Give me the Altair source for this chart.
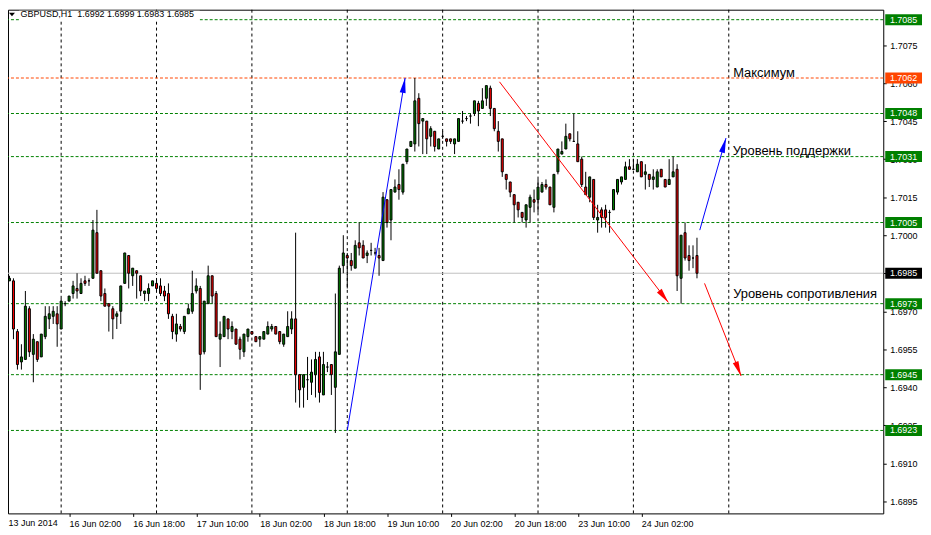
import math
import altair as alt
import pandas as pd

# ---------------- data (GBPUSD H1) ----------------
open_ = [1.6974, 1.6982, 1.6982, 1.6962, 1.6950, 1.6951, 1.6971, 1.6953, 1.6958, 1.6952,
         1.6960, 1.6967, 1.6968, 1.6969, 1.6963, 1.6973, 1.6974, 1.6977, 1.6979, 1.6977,
         1.6982, 1.6982, 1.6983, 1.7001, 1.6986, 1.6977, 1.6973, 1.6971, 1.6968, 1.6970,
         1.6981, 1.6992, 1.6984, 1.6986, 1.6984, 1.6977, 1.6977, 1.6980, 1.6981, 1.6980,
         1.6978, 1.6977, 1.6968, 1.6961, 1.6964, 1.6962, 1.6969, 1.6970, 1.6978, 1.6979,
         1.6954, 1.6973, 1.6984, 1.6977, 1.6959, 1.6960, 1.6967, 1.6962, 1.6963, 1.6959,
         1.6954, 1.6960, 1.6962, 1.6960, 1.6959, 1.6959, 1.6961, 1.6963, 1.6964, 1.6962,
         1.6957, 1.6960, 1.6963, 1.6967, 1.6945, 1.6940, 1.6943, 1.6942, 1.6945, 1.6952,
         1.6937, 1.6948, 1.6949, 1.6940, 1.6953, 1.6988, 1.6992, 1.6990, 1.6987, 1.6997,
         1.6996, 1.6992, 1.6994, 1.6993, 1.6992, 1.6990, 1.7014, 1.7006, 1.7017, 1.7020,
         1.7017, 1.7029, 1.7035, 1.7036, 1.7054, 1.7045, 1.7045, 1.7039, 1.7041, 1.7034,
         1.7039, 1.7038, 1.7038, 1.7036, 1.7037, 1.7045, 1.7046, 1.7047, 1.7048, 1.7052,
         1.7050, 1.7054, 1.7058, 1.7050, 1.7041, 1.7038, 1.7024, 1.7021, 1.7016, 1.7013,
         1.7009, 1.7006, 1.7011, 1.7014, 1.7014, 1.7017, 1.7020, 1.7019, 1.7011, 1.7025,
         1.7032, 1.7034, 1.7040, 1.7037, 1.7036, 1.7030, 1.7019, 1.7015, 1.7022, 1.7006,
         1.7010, 1.7010, 1.7009, 1.7010, 1.7017, 1.7021, 1.7022, 1.7027, 1.7026, 1.7025,
         1.7029, 1.7024, 1.7024, 1.7022, 1.7019, 1.7026, 1.7022, 1.7020, 1.7023, 1.7026,
         1.6983, 1.7001, 1.6992, 1.6991, 1.6992]
high_ = [1.6991, 1.6984, 1.6983, 1.6963, 1.6957, 1.6978, 1.6972, 1.6961, 1.6958, 1.6961,
         1.6972, 1.6972, 1.6972, 1.6972, 1.6975, 1.6974, 1.6976, 1.6982, 1.6985, 1.6983,
         1.6984, 1.6983, 1.7006, 1.7010, 1.6986, 1.6979, 1.6973, 1.6972, 1.6970, 1.6980,
         1.6993, 1.6992, 1.6987, 1.6986, 1.6984, 1.6978, 1.6981, 1.6982, 1.6983, 1.6983,
         1.6980, 1.6981, 1.6969, 1.6969, 1.6965, 1.6968, 1.6973, 1.6986, 1.6983, 1.6980,
         1.6974, 1.6988, 1.6984, 1.6978, 1.6966, 1.6968, 1.6967, 1.6966, 1.6963, 1.6960,
         1.6961, 1.6963, 1.6962, 1.6960, 1.6960, 1.6962, 1.6966, 1.6965, 1.6964, 1.6962,
         1.6961, 1.6970, 1.6970, 1.7001, 1.6945, 1.6945, 1.6952, 1.6951, 1.6954, 1.6954,
         1.6954, 1.6950, 1.6949, 1.6977, 1.6988, 1.7000, 1.6993, 1.6993, 1.6998, 1.7005,
         1.6998, 1.6994, 1.6997, 1.6995, 1.6995, 1.7017, 1.7014, 1.7018, 1.7022, 1.7026,
         1.7028, 1.7034, 1.7037, 1.7062, 1.7056, 1.7046, 1.7045, 1.7043, 1.7041, 1.7038,
         1.7041, 1.7038, 1.7038, 1.7038, 1.7046, 1.7049, 1.7047, 1.7048, 1.7053, 1.7053,
         1.7058, 1.7059, 1.7059, 1.7050, 1.7045, 1.7038, 1.7024, 1.7021, 1.7016, 1.7013,
         1.7009, 1.7012, 1.7016, 1.7018, 1.7022, 1.7021, 1.7022, 1.7019, 1.7024, 1.7034,
         1.7037, 1.7044, 1.7040, 1.7048, 1.7041, 1.7031, 1.7025, 1.7023, 1.7022, 1.7012,
         1.7011, 1.7012, 1.7010, 1.7018, 1.7022, 1.7023, 1.7029, 1.7030, 1.7030, 1.7030,
         1.7029, 1.7028, 1.7024, 1.7026, 1.7026, 1.7026, 1.7022, 1.7030, 1.7031, 1.7028,
         1.7000, 1.7005, 1.6996, 1.6996, 1.6999]
low_ = [1.6967, 1.6982, 1.6959, 1.6947, 1.6947, 1.6951, 1.6952, 1.6942, 1.6950, 1.6952,
        1.6959, 1.6963, 1.6965, 1.6956, 1.6963, 1.6972, 1.6974, 1.6975, 1.6975, 1.6977,
        1.6980, 1.6980, 1.6983, 1.6985, 1.6974, 1.6972, 1.6962, 1.6959, 1.6963, 1.6965,
        1.6981, 1.6979, 1.6980, 1.6975, 1.6976, 1.6974, 1.6974, 1.6980, 1.6978, 1.6976,
        1.6974, 1.6967, 1.6959, 1.6958, 1.6962, 1.6961, 1.6969, 1.6969, 1.6977, 1.6939,
        1.6953, 1.6973, 1.6973, 1.6960, 1.6948, 1.6960, 1.6959, 1.6959, 1.6957, 1.6951,
        1.6952, 1.6958, 1.6961, 1.6958, 1.6956, 1.6959, 1.6961, 1.6962, 1.6961, 1.6957,
        1.6956, 1.6960, 1.6961, 1.6934, 1.6932, 1.6932, 1.6935, 1.6937, 1.6936, 1.6934,
        1.6937, 1.6946, 1.6937, 1.6922, 1.6953, 1.6985, 1.6979, 1.6986, 1.6987, 1.6992,
        1.6991, 1.6989, 1.6992, 1.6992, 1.6984, 1.6990, 1.7003, 1.6998, 1.7017, 1.7014,
        1.7016, 1.7028, 1.7035, 1.7033, 1.7035, 1.7032, 1.7032, 1.7035, 1.7033, 1.7034,
        1.7038, 1.7035, 1.7036, 1.7032, 1.7037, 1.7044, 1.7045, 1.7044, 1.7047, 1.7043,
        1.7050, 1.7051, 1.7047, 1.7041, 1.7033, 1.7023, 1.7018, 1.7015, 1.7005, 1.7007,
        1.7005, 1.7003, 1.7005, 1.7009, 1.7009, 1.7017, 1.7018, 1.7012, 1.7009, 1.7024,
        1.7032, 1.7034, 1.7037, 1.7037, 1.7029, 1.7019, 1.7016, 1.7013, 1.7006, 1.7001,
        1.7003, 1.7003, 1.7001, 1.7010, 1.7016, 1.7020, 1.7022, 1.7026, 1.7026, 1.7025,
        1.7023, 1.7018, 1.7019, 1.7018, 1.7019, 1.7023, 1.7019, 1.7020, 1.7023, 1.6978,
        1.6973, 1.6990, 1.6986, 1.6987, 1.6983]
close_ = [1.6983, 1.6983, 1.6963, 1.6949, 1.6952, 1.6972, 1.6954, 1.6959, 1.6951, 1.6961,
          1.6968, 1.6969, 1.6970, 1.6965, 1.6974, 1.6973, 1.6976, 1.6980, 1.6978, 1.6981,
          1.6981, 1.6982, 1.7002, 1.6985, 1.6976, 1.6972, 1.6972, 1.6967, 1.6969, 1.6980,
          1.6993, 1.6985, 1.6987, 1.6985, 1.6978, 1.6978, 1.6979, 1.6982, 1.6979, 1.6977,
          1.6976, 1.6969, 1.6962, 1.6965, 1.6963, 1.6968, 1.6971, 1.6977, 1.6980, 1.6953,
          1.6974, 1.6984, 1.6976, 1.6960, 1.6961, 1.6968, 1.6963, 1.6964, 1.6957, 1.6955,
          1.6961, 1.6963, 1.6961, 1.6958, 1.6960, 1.6962, 1.6964, 1.6964, 1.6961, 1.6958,
          1.6961, 1.6964, 1.6967, 1.6945, 1.6939, 1.6945, 1.6943, 1.6946, 1.6951, 1.6938,
          1.6949, 1.6948, 1.6945, 1.6954, 1.6987, 1.6993, 1.6991, 1.6988, 1.6996, 1.6995,
          1.6991, 1.6993, 1.6994, 1.6993, 1.6991, 1.7015, 1.7005, 1.7018, 1.7019, 1.7018,
          1.7028, 1.7034, 1.7037, 1.7053, 1.7044, 1.7046, 1.7038, 1.7042, 1.7035, 1.7038,
          1.7039, 1.7037, 1.7037, 1.7038, 1.7046, 1.7045, 1.7046, 1.7047, 1.7053, 1.7049,
          1.7053, 1.7059, 1.7050, 1.7042, 1.7037, 1.7025, 1.7022, 1.7017, 1.7012, 1.7010,
          1.7007, 1.7012, 1.7015, 1.7013, 1.7019, 1.7020, 1.7019, 1.7012, 1.7024, 1.7034,
          1.7033, 1.7039, 1.7038, 1.7037, 1.7029, 1.7020, 1.7016, 1.7023, 1.7007, 1.7007,
          1.7007, 1.7007, 1.7009, 1.7018, 1.7022, 1.7023, 1.7027, 1.7026, 1.7026, 1.7028,
          1.7023, 1.7025, 1.7022, 1.7023, 1.7025, 1.7023, 1.7019, 1.7022, 1.7025, 1.6984,
          1.7000, 1.6991, 1.6990, 1.6991, 1.6985]

tick_index = [0, 16, 32, 48, 64, 80, 96, 112, 128, 144, 160]
tick_text = ["13 Jun 2014", "16 Jun 02:00", "16 Jun 18:00", "17 Jun 10:00",
             "18 Jun 02:00", "18 Jun 18:00", "19 Jun 10:00", "20 Jun 02:00",
             "20 Jun 18:00", "23 Jun 10:00", "24 Jun 02:00"]
day_start = [14, 38, 62, 86, 110, 134, 158, 182]
y_ticks = [1.6895, 1.6910, 1.6925, 1.6940, 1.6955, 1.6970, 1.6985,
           1.7000, 1.7015, 1.7030, 1.7045, 1.7060, 1.7075, 1.7090]

level_price = [1.7085, 1.7062, 1.7048, 1.7031, 1.7005, 1.6973, 1.6945, 1.6923]
level_color = ["#008000", "#FF4500", "#008000", "#008000", "#008000",
               "#008000", "#008000", "#008000"]
bid_price = 1.6985

arrow_x0 = [86.0, 124.3, 174.7, 175.9]
arrow_y0 = [1.6923, 1.70605, 1.7002, 1.6981]
arrow_x1 = [100.55, 166.8, 181.3, 185.1]
arrow_y1 = [1.7062, 1.69735, 1.70383, 1.69445]
arrow_color = ["#0000FF", "#FF0000", "#0000FF", "#FF0000"]

note_text = ["Максимум", "Уровень поддержки", "Уровень сопротивления"]
note_x = [183.1, 183.0, 183.1]
note_y = [1.70625, 1.70315, 1.69754]

header_text = "GBPUSD,H1\u00a0\u00a01.6992 1.6999 1.6983 1.6985"

# ---------------- layout ----------------
W, H = 881, 507
XDOM = [0.625, 0.625 + W / 4.0]
YDOM = [1.689028, 1.708894]
FONT = "Liberation Sans"

# the first date label sits at the very left edge, before the first full candle
inner_ticks = [t for t in tick_index if t >= XDOM[0]]
label_expr = "[" + ",".join("'%s'" % t for t in tick_text) + "][round(datum.value/16)]"

XAXIS = alt.Axis(values=inner_ticks, labelExpr=label_expr, labelAlign="left",
                 labelBaseline="top", labelPadding=3, tickSize=3, tickColor="black",
                 domain=False, grid=False, title=None, labelFont=FONT, labelFontSize=9,
                 labelColor="black", labelOverlap=False, labelFlush=False)
YAXIS = alt.Axis(orient="right", values=y_ticks, format=".4f", tickSize=3,
                 tickColor="black", labelPadding=3.5, domain=False, grid=False,
                 title=None, labelFont=FONT, labelFontSize=9, labelColor="black",
                 labelOverlap=False, labelFlush=False)

xs = alt.Scale(domain=XDOM, nice=False, zero=False, padding=0)
ys = alt.Scale(domain=YDOM, nice=False, zero=False, padding=0)


def X(f):
    return alt.X(f, type="quantitative", scale=xs, axis=XAXIS)


def Y(f):
    return alt.Y(f, type="quantitative", scale=ys, axis=YAXIS)


n = len(open_)
candles = pd.DataFrame({
    "i": list(range(n)), "o": open_, "h": high_, "l": low_, "c": close_,
})
candles["col"] = ["#FF0000" if c < o else "#008000" for o, c in zip(open_, close_)]

sx = W / (XDOM[1] - XDOM[0])
sy = H / (YDOM[1] - YDOM[0])
angles = []
for a, b, c, d in zip(arrow_x0, arrow_y0, arrow_x1, arrow_y1):
    dx = (c - a) * sx
    dy = (d - b) * sy
    angles.append(math.degrees(math.atan2(dx, dy)) % 360)
arrows = pd.DataFrame({"x0": arrow_x0, "y0": arrow_y0, "x1": arrow_x1,
                       "y1": arrow_y1, "col": arrow_color, "ang": angles})

levels = pd.DataFrame({"p": level_price, "col": level_color})
grid = pd.DataFrame({"d": day_start})
bid = pd.DataFrame({"p": [bid_price]})
notes = pd.DataFrame({"t": note_text, "x": note_x, "y": note_y})
boxes = pd.DataFrame({
    "p": level_price + [bid_price],
    "col": level_color + ["#000000"],
    "lab": ["%.4f" % v for v in level_price + [bid_price]],
})
one = pd.DataFrame({"k": [0]})
first_lab = pd.DataFrame({"t": [tick_text[0]]})

vgrid = alt.Chart(grid).mark_rule(color="black", strokeWidth=1, strokeDash=[3, 3]).encode(x=X("d"))
hlev = alt.Chart(levels).mark_rule(strokeWidth=1, strokeDash=[3, 2]).encode(
    y=Y("p"), color=alt.Color("col:N", scale=None))
bidl = alt.Chart(bid).mark_rule(color="#C0C0C0", strokeWidth=1).encode(y=Y("p"))

wick = alt.Chart(candles).mark_rule(color="black", strokeWidth=1).encode(
    x=X("i"), y=Y("l"), y2=alt.Y2("h"))
body = alt.Chart(candles).mark_bar(size=2, stroke="black", strokeWidth=1).encode(
    x=X("i"), y=Y("o"), y2=alt.Y2("c"), color=alt.Color("col:N", scale=None))

aline = alt.Chart(arrows).mark_rule(strokeWidth=1).encode(
    x=X("x0"), y=Y("y0"), x2=alt.X2("x1"), y2=alt.Y2("y1"),
    color=alt.Color("col:N", scale=None))
ahead = alt.Chart(arrows).mark_point(shape="M0,0L0.4,2L-0.4,2Z", filled=True,
                                     size=225, opacity=1, strokeWidth=0).encode(
    x=X("x1"), y=Y("y1"), angle=alt.Angle("ang:Q", scale=None),
    color=alt.Color("col:N", scale=None))

ntext = alt.Chart(notes).mark_text(align="left", baseline="alphabetic", font=FONT,
                                   fontSize=13, color="black").encode(
    x=X("x"), y=Y("y"), text="t:N")

hbg = alt.Chart(one).mark_rect(color="white").encode(
    x=alt.value(11), x2=alt.value(193), y=alt.value(1), y2=alt.value(11.5))
htri = alt.Chart(one).mark_point(shape="M-1,-0.6L1,-0.6L0,0.6Z", filled=True,
                                 size=36, color="black", opacity=1).encode(
    x=alt.value(4), y=alt.value(4.8))
htxt = alt.Chart(one).mark_text(align="left", baseline="middle", font=FONT,
                                fontSize=9, color="black").encode(
    x=alt.value(12.7), y=alt.value(4.7), text=alt.value(header_text))

flab = alt.Chart(first_lab).mark_text(align="left", baseline="top", font=FONT,
                                      fontSize=9, color="black").encode(
    x=alt.value(0.5), y=alt.value(H + 6), text="t:N")

pbox = alt.Chart(boxes).mark_point(shape="M-1,-0.3L1,-0.3L1,0.3L-1,0.3Z", filled=True,
                                   size=1369, opacity=1, strokeWidth=0).encode(
    x=alt.value(901.5), y=Y("p"), color=alt.Color("col:N", scale=None))
ptxt = alt.Chart(boxes).mark_text(align="left", baseline="middle", font=FONT,
                                  fontSize=9, color="white").encode(
    x=alt.value(887.7), y=Y("p"), text="lab:N")

chart = alt.layer(
    vgrid, hlev, bidl, wick, body, aline, ahead, ntext, hbg, htri, htxt, flab, pbox, ptxt
).properties(
    width=W, height=H,
    autosize=alt.AutoSizeParams(type="none"),
    padding={"left": 0, "top": 0, "right": 40, "bottom": 16},
    background="white",
).configure_view(stroke="black", strokeWidth=1, fill="white")

chart.save("out.html", embed_options={"renderer": "svg", "actions": False})
